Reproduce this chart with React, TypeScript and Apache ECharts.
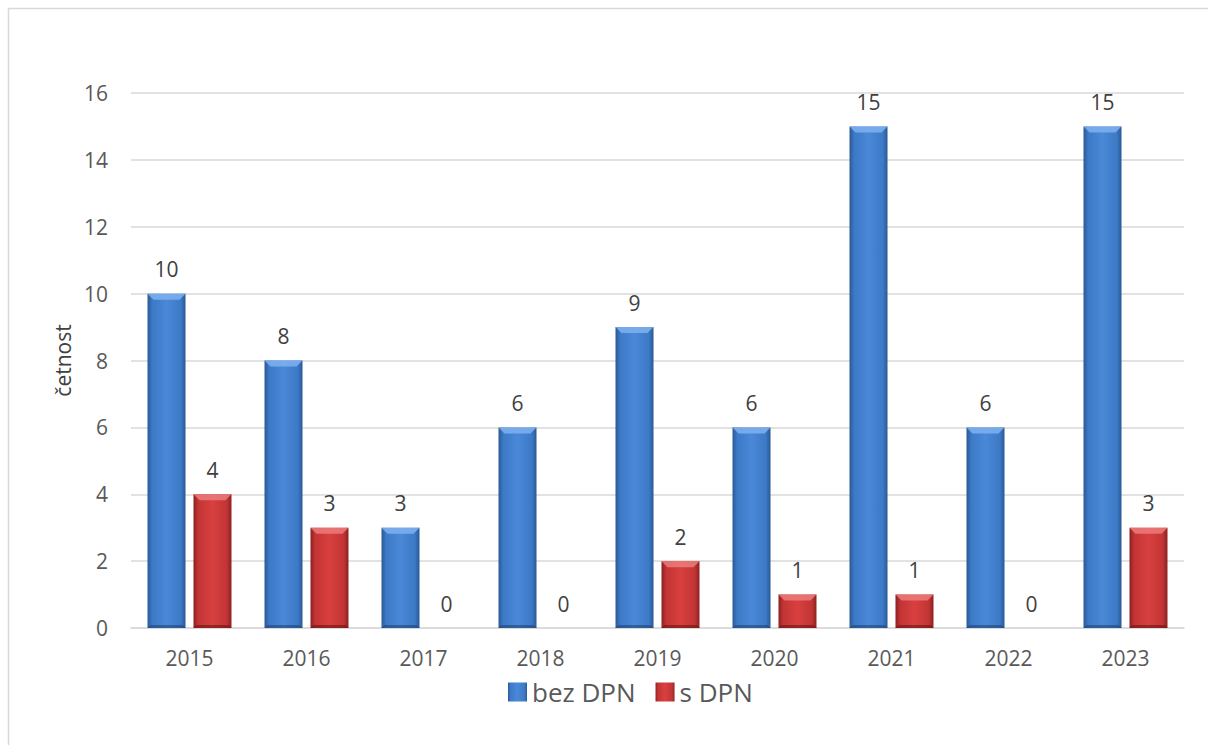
import React, { useEffect, useRef } from "react";
import * as echarts from "echarts";

const years = ["2015", "2016", "2017", "2018", "2019", "2020", "2021", "2022", "2023"];
const bezDPN = [10, 8, 3, 6, 9, 6, 15, 6, 15];
const sDPN = [4, 3, 0, 0, 2, 1, 1, 0, 3];
const seriesNames = ["bez DPN", "s DPN"];
const yTicks = { min: 0, max: 16, interval: 2 };

const FONT = "'Open Sans', 'Liberation Sans', sans-serif";
const BAR_W = 38;
const GAP = 8;

const grad = (edge: string, mid: string, center: string) =>
  new echarts.graphic.LinearGradient(0, 0, 1, 0, [
    { offset: 0, color: edge },
    { offset: 0.12, color: mid },
    { offset: 0.5, color: center },
    { offset: 0.88, color: mid },
    { offset: 1, color: edge },
  ]);

const bevelSeries = (values: number[], side: number, light: string, dark: string) => ({
  type: "custom",
  silent: true,
  z: 3,
  data: values.map((v, i) => [i, v]),
  encode: { x: 0, y: 1 },
  renderItem: (params: any, api: any) => {
    const idx = api.value(0);
    const val = api.value(1);
    if (!val) return { type: "group", children: [] };
    const top = api.coord([idx, val]);
    const base = api.coord([idx, 0]);
    const cx = top[0] + side * (BAR_W + GAP) / 2;
    const x0 = cx - BAR_W / 2;
    const x1 = cx + BAR_W / 2;
    const y0 = top[1];
    const yb = base[1];
    const b = 6;
    return {
      type: "group",
      children: [
        {
          type: "polygon",
          shape: { points: [[x0, y0], [x1, y0], [x1 - b, y0 + b], [x0 + b, y0 + b]] },
          style: { fill: light, opacity: 0.85 },
        },
        {
          type: "polygon",
          shape: { points: [[x0, yb], [x1, yb], [x1 - 3, yb - 3], [x0 + 3, yb - 3]] },
          style: { fill: dark, opacity: 0.6 },
        },
      ],
    };
  },
});

export default function App() {
  const ref = useRef<HTMLDivElement>(null);
  useEffect(() => {
    const chart = echarts.init(ref.current!, null, { renderer: "svg" });
    const blue = grad("#2a5893", "#3c79c6", "#4a89d8");
    const red = grad("#8a2020", "#c23434", "#d8403f");
    const label = {
      show: true,
      position: "top" as const,
      distance: 14,
      color: "#404040",
      fontSize: 21,
      fontFamily: FONT,
    };
    chart.setOption({
      animation: false,
      backgroundColor: "#ffffff",
      graphic: [
        {
          type: "rect",
          shape: { x: 8.5, y: 8.5, width: 1300, height: 900 },
          style: { fill: "none", stroke: "#d9d9d9", lineWidth: 1.5 },
          silent: true,
        },
      ],
      grid: { left: 131, right: 24, top: 93, bottom: 117 },
      legend: {
        data: seriesNames,
        left: 503,
        top: 674,
        icon: "rect",
        itemWidth: 19,
        itemHeight: 19,
        itemGap: 20,
        textStyle: { fontSize: 26, color: "#595959", fontFamily: FONT },
      },
      xAxis: {
        type: "category",
        data: years,
        axisLine: { show: true, lineStyle: { color: "#d9d9d9", width: 1.5 } },
        axisTick: { show: false },
        axisLabel: { color: "#595959", fontSize: 21, fontFamily: FONT, margin: 19 },
      },
      yAxis: {
        type: "value",
        min: yTicks.min,
        max: yTicks.max,
        interval: yTicks.interval,
        name: "četnost",
        nameLocation: "middle",
        nameGap: 58,
        nameRotate: 90,
        nameTextStyle: { color: "#404040", fontSize: 21, fontFamily: FONT },
        axisLine: { show: false },
        axisTick: { show: false },
        splitLine: { lineStyle: { color: "#d9d9d9", width: 1.5 } },
        axisLabel: { color: "#595959", fontSize: 21, fontFamily: FONT, margin: 23 },
      },
      series: [
        {
          name: seriesNames[0],
          type: "bar",
          data: bezDPN,
          barWidth: BAR_W,
          barGap: "21%",
          itemStyle: { color: blue },
          label,
        },
        {
          name: seriesNames[1],
          type: "bar",
          data: sDPN,
          barWidth: BAR_W,
          barGap: "21%",
          itemStyle: { color: red },
          label,
        },
        bevelSeries(bezDPN, -1, "#7fb2ee", "#1f4577"),
        bevelSeries(sDPN, 1, "#ec7b7b", "#6a1414"),
      ],
    });
    return () => chart.dispose();
  }, []);
  return (
    <div
      ref={ref}
      style={{ position: "fixed", left: 0, top: 0, width: 1208, height: 745 }}
    />
  );
}
